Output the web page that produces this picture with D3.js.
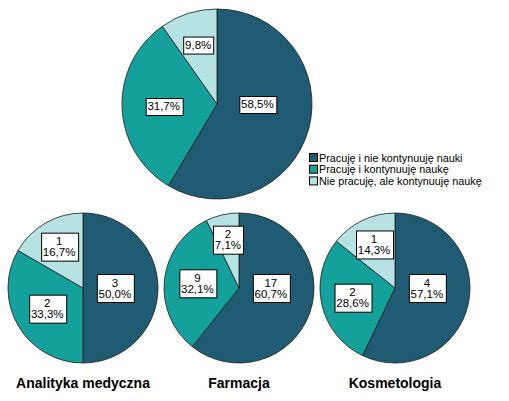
<!DOCTYPE html>
<html>
<head>
<meta charset="utf-8">
<script src="https://cdn.jsdelivr.net/npm/d3@7"></script>
<style>
  body { margin: 0; background: #fff; }
  text { font-family: "Liberation Sans", Arial, sans-serif; }
</style>
</head>
<body>
<div id="chart-area"></div>
<script>
// categories (legend order = slice order, clockwise from 12 o'clock)
const categories = ["Pracuję i nie kontynuuję nauki", "Pracuję i kontynuuję naukę", "Nie pracuję, ale kontynuuję naukę"];
const colors = ["#1f5c74", "#14a19b", "#b6e2e3"];

// groups (small pies) and their counts
const groups = ["Analityka medyczna", "Farmacja", "Kosmetologia"];
const analitykaCounts = [3, 2, 1];
const farmacjaCounts = [17, 9, 2];
const kosmetologiaCounts = [4, 2, 1];
const groupCounts = [analitykaCounts, farmacjaCounts, kosmetologiaCounts];

const width = 509, height = 401;

const svg = d3.select("#chart-area")
  .append("svg")
    .attr("width", width)
    .attr("height", height);

const fmt = v => d3.format(".1f")(v).replace(".", ",") + "%";

const pie = d3.pie().sort(null).value(d => d);

// label position: area centroid of the sector
// (slices over half a circle use their first half only, like the original)
function labelPos(d, r) {
  const a = Math.min(d.endAngle - d.startAngle, Math.PI);
  const mid = d.startAngle + a / 2;
  const dist = 4 * r * Math.sin(a / 2) / (3 * a);
  return [dist * Math.sin(mid), -dist * Math.cos(mid)];
}

function drawPie(g, counts, r, showCounts) {
  const total = d3.sum(counts);
  const arc = d3.arc().innerRadius(0).outerRadius(r);
  const arcs = pie(counts);

  g.selectAll("path.slice")
    .data(arcs)
    .enter()
    .append("path")
      .attr("class", "slice")
      .attr("d", arc)
      .attr("fill", (d, i) => colors[i])
      .attr("stroke", "#1a1a1a")
      .attr("stroke-width", 0.8);

  arcs.forEach(d => {
    const [x, y] = labelPos(d, r);
    const lines = showCounts
      ? [String(d.data), fmt(100 * d.data / total)]
      : [fmt(100 * d.data / total)];
    const lg = g.append("g").attr("transform", `translate(${x}, ${y})`);
    const rect = lg.append("rect")
      .attr("fill", "#fff")
      .attr("stroke", "#000")
      .attr("stroke-width", 1);
    const lh = 11;
    const t = lg.append("text")
      .attr("text-anchor", "middle")
      .style("font-size", "11.5px")
      .attr("fill", "#000");
    lines.forEach((s, i) => {
      t.append("tspan")
        .attr("x", 0)
        .attr("y", (i - (lines.length - 1) / 2) * lh + 4)
        .text(s);
    });
    const bb = t.node().getBBox();
    const w = Math.round(bb.width + 4), h = lines.length * lh + 6;
    rect.attr("x", Math.round(-w / 2) + 0.5)
      .attr("y", Math.round(-h / 2) + 0.5)
      .attr("width", w)
      .attr("height", h);
  });
}

// top pie: all groups together
const totalCounts = categories.map((c, i) => d3.sum(groupCounts, gc => gc[i]));
const topPie = svg.append("g").attr("transform", "translate(217, 104)");
drawPie(topPie, totalCounts, 95, false);

// legend
const legend = svg.append("g").attr("transform", "translate(309, 153)");
const lItem = legend.selectAll("g")
  .data(categories)
  .enter()
  .append("g")
    .attr("transform", (d, i) => `translate(0, ${i * 11.7})`);
lItem.append("rect")
  .attr("x", 0.5).attr("y", 0.5)
  .attr("width", 8).attr("height", 8)
  .attr("fill", (d, i) => colors[i])
  .attr("stroke", "#000")
  .attr("stroke-width", 1);
lItem.append("text")
  .attr("x", 10)
  .attr("y", 8.5)
  .style("font-size", "10.8px")
  .text(d => d);

// small pies
const x = d3.scalePoint()
  .domain(groups)
  .range([83, 395]);

groups.forEach((name, gi) => {
  const g = svg.append("g").attr("transform", `translate(${x(name)}, 288)`);
  drawPie(g, groupCounts[gi], 75, true);
  svg.append("text")
    .attr("x", x(name))
    .attr("y", 388)
    .attr("text-anchor", "middle")
    .style("font-size", "14px")
    .style("font-weight", "bold")
    .text(name);
});
</script>
</body>
</html>
